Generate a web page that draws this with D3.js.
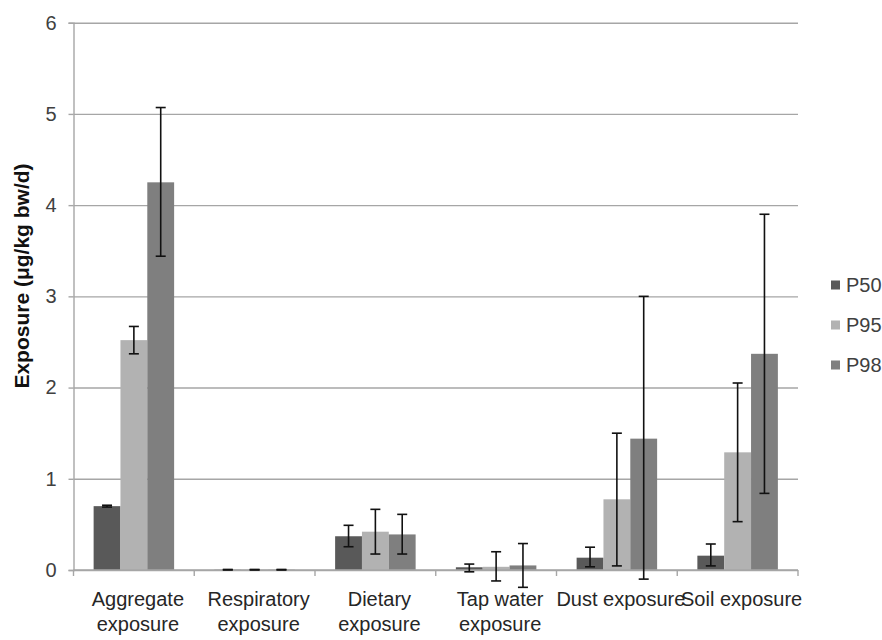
<!DOCTYPE html>
<html>
<head>
<meta charset="utf-8">
<script src="https://cdn.jsdelivr.net/npm/d3@7"></script>
<style>
  body { margin:0; background:#fff; }
  svg { font-family: "Liberation Sans", Arial, sans-serif; }
</style>
</head>
<body>
<div id="chart"></div>
<script>
// categories and series
var categories = ["Aggregate exposure","Respiratory exposure","Dietary exposure","Tap water exposure","Dust exposure","Soil exposure"];
var labelLines = [["Aggregate","exposure"],["Respiratory","exposure"],["Dietary","exposure"],["Tap water","exposure"],["Dust exposure"],["Soil exposure"]];
var series = ["P50","P95","P98"];
var colors = ["#595959","#b2b2b2","#7f7f7f"];
var yTicks = [0,1,2,3,4,5,6];

// values (ug/kg bw/d), with error bar ends
var p50     = [0.70, 0.003, 0.37, 0.03, 0.135, 0.157];
var p50Low  = [0.69, 0.000, 0.255, -0.02, 0.035, 0.045];
var p50High = [0.71, 0.006, 0.49, 0.065, 0.25, 0.285];
var p95     = [2.52, 0.003, 0.42, 0.035, 0.775, 1.29];
var p95Low  = [2.37, 0.000, 0.175, -0.12, 0.045, 0.53];
var p95High = [2.67, 0.006, 0.665, 0.20, 1.50, 2.05];
var p98     = [4.25, 0.003, 0.39, 0.05, 1.44, 2.37];
var p98Low  = [3.44, 0.000, 0.175, -0.19, -0.10, 0.84];
var p98High = [5.07, 0.006, 0.61, 0.29, 3.00, 3.90];

var vals = [p50,p95,p98], lows = [p50Low,p95Low,p98Low], highs = [p50High,p95High,p98High];
var rows = [];
categories.forEach(function(c,i){
  series.forEach(function(s,j){
    rows.push({cat:c, ser:s, k:j, v:vals[j][i], lo:lows[j][i], hi:highs[j][i]});
  });
});

var W = 882, H = 640;
var plotL = 73.5, plotR = 798, plotT = 22.7, plotB = 570;

var svg = d3.select("#chart").append("svg").attr("width",W).attr("height",H);

var y = d3.scaleLinear().domain([0,6]).range([plotB, plotT]);
var x0 = d3.scaleBand().domain(categories).range([plotL, plotR]);
// excel gap width 150%
var x1 = d3.scaleBand().domain(series).range([0, x0.bandwidth()]).paddingInner(0).paddingOuter(0.75);

// gridlines
svg.append("g")
  .attr("transform","translate(" + plotL + ",0)")
  .call(d3.axisLeft(y).tickValues(yTicks).tickSize(-(plotR-plotL)).tickFormat(""))
  .call(function(g){
    g.select(".domain").remove();
    g.selectAll("line").attr("stroke","#a6a6a6").attr("stroke-width",1.4);
  });

// y axis with labels
svg.append("g")
  .attr("transform","translate(" + plotL + ",0)")
  .call(d3.axisLeft(y).tickValues(yTicks).tickSize(5).tickPadding(12).tickFormat(d3.format("d")))
  .call(function(g){
    g.select(".domain").attr("stroke","#a6a6a6").attr("stroke-width",1.4);
    g.selectAll("line").attr("stroke","#a6a6a6").attr("stroke-width",1.4);
    g.selectAll("text").attr("font-size","20px").attr("fill","#404040")
      .attr("font-family","'Liberation Sans', Arial, sans-serif");
  });

// bars
svg.append("g").selectAll("rect")
  .data(rows).enter().append("rect")
  .attr("x", function(d){ return x0(d.cat) + x1(d.ser); })
  .attr("width", x1.bandwidth())
  .attr("y", function(d){ return y(Math.max(0,d.v)); })
  .attr("height", function(d){ return Math.abs(y(0) - y(d.v)); })
  .attr("fill", function(d){ return colors[d.k]; });

// x axis baseline and boundary ticks
var xa = svg.append("g");
xa.append("line").attr("x1",plotL).attr("x2",plotR).attr("y1",y(0)).attr("y2",y(0))
  .attr("stroke","#a6a6a6").attr("stroke-width",1.4);
xa.selectAll(".bt").data(categories.concat(["end"])).enter().append("line")
  .attr("x1", function(d){ return d==="end" ? plotR : x0(d); })
  .attr("x2", function(d){ return d==="end" ? plotR : x0(d); })
  .attr("y1", y(0)).attr("y2", y(0)+6)
  .attr("stroke","#a6a6a6").attr("stroke-width",1.4);

// error bars
var eb = svg.append("g").attr("stroke","#111").attr("stroke-width",1.6);
rows.forEach(function(d){
  var cx = x0(d.cat) + x1(d.ser) + x1.bandwidth()/2;
  eb.append("line").attr("x1",cx).attr("x2",cx).attr("y1",y(d.lo)).attr("y2",y(d.hi));
  eb.append("line").attr("x1",cx-5).attr("x2",cx+5).attr("y1",y(d.lo)).attr("y2",y(d.lo));
  eb.append("line").attr("x1",cx-5).attr("x2",cx+5).attr("y1",y(d.hi)).attr("y2",y(d.hi));
});

// category labels
var cl = svg.append("g").attr("font-size","20px").attr("fill","#262626").attr("text-anchor","middle");
categories.forEach(function(c,i){
  var t = cl.append("text").attr("x", x0(c) + x0.bandwidth()/2 + 4).attr("y", 606);
  labelLines[i].forEach(function(l,j){
    t.append("tspan").attr("x", x0(c) + x0.bandwidth()/2 + 4).attr("dy", j===0 ? 0 : 25).text(l);
  });
});

// y title
svg.append("text")
  .attr("transform","translate(23,276) rotate(-90)")
  .attr("text-anchor","middle").attr("dominant-baseline","middle")
  .attr("font-size","21px").attr("font-weight","bold").attr("fill","#111")
  .text("Exposure (\u03bcg/kg bw/d)");

// legend
var lg = svg.append("g").selectAll("g").data(series).enter().append("g")
  .attr("transform", function(d,i){ return "translate(831," + (285 + i*40) + ")"; });
lg.append("rect").attr("x",0).attr("y",-4.5).attr("width",9).attr("height",9)
  .attr("fill", function(d,i){ return colors[i]; });
lg.append("text").attr("x",15).attr("y",7).attr("font-size","20px").attr("fill","#404040")
  .text(function(d){ return d; });
</script>
</body>
</html>
